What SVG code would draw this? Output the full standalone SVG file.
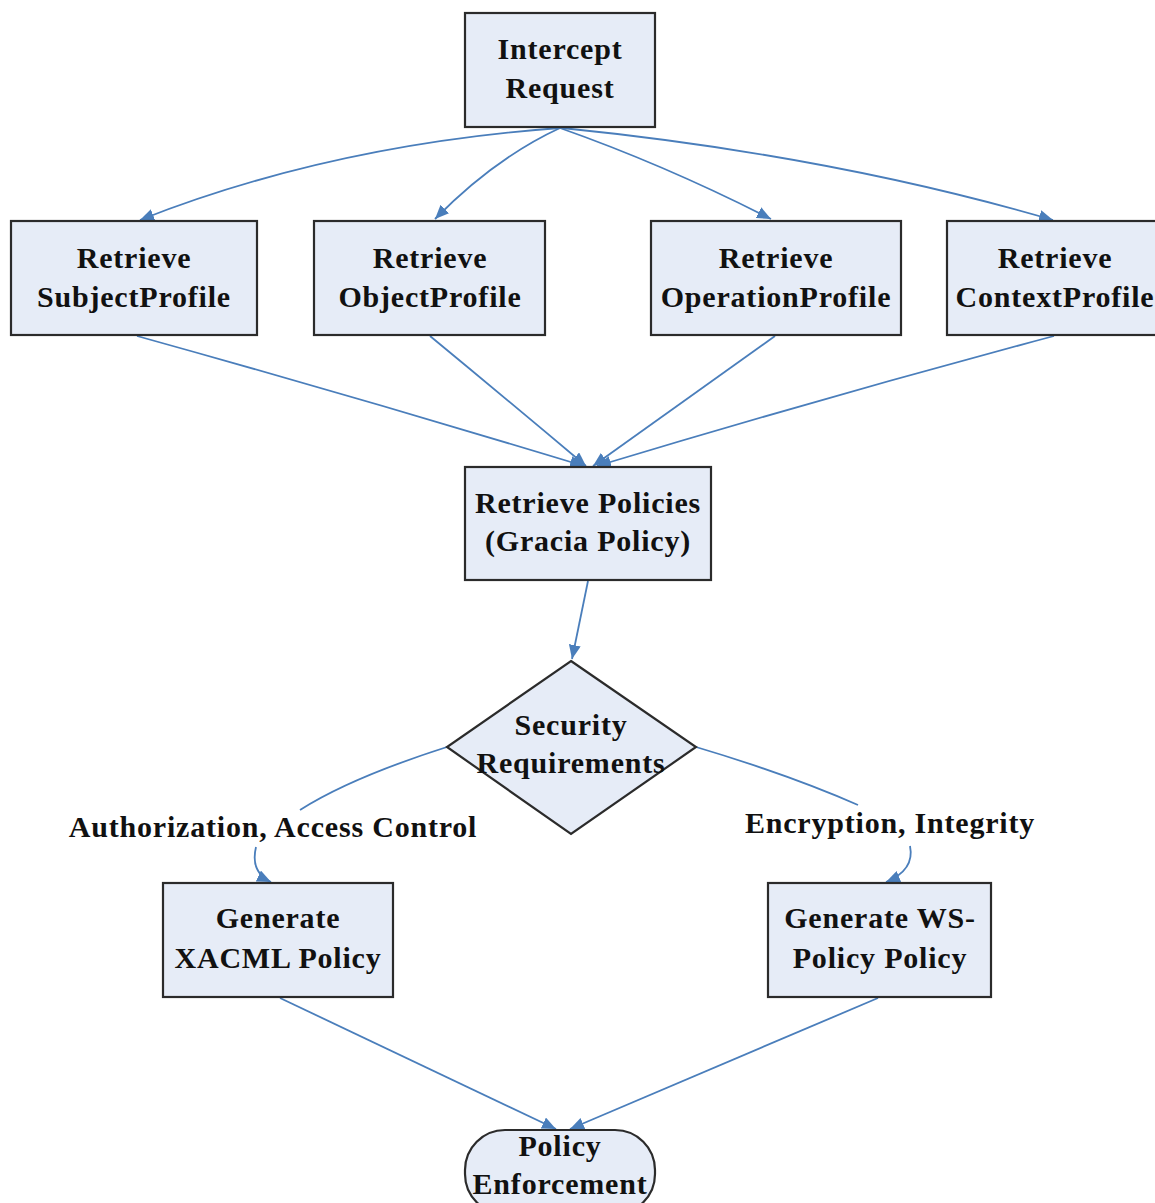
<svg xmlns="http://www.w3.org/2000/svg" width="1155" height="1203" viewBox="0 0 1155 1203">
  <style>
    .box { fill: #E6ECF7; stroke: #2b2b2b; stroke-width: 2.2; }
    .lbl { font-family: "Liberation Serif", "Times New Roman", serif; font-weight: bold; font-size: 30px; letter-spacing: 0.8px; fill: #111; text-anchor: middle; }
    .edge { fill: none; stroke: #4A7EBB; stroke-width: 1.8; }
  </style>
  <defs>
    <marker id="arrow" viewBox="0 0 14 12" refX="14" refY="6" markerWidth="14" markerHeight="12" markerUnits="userSpaceOnUse" orient="auto">
      <path d="M0,0 L14,6 L0,12 Z" fill="#4A7EBB"/>
    </marker>
  </defs>
  <rect width="1155" height="1203" fill="#ffffff"/>

  <g id="connectors">
    <!-- fan-out from Intercept Request -->
    <path class="edge" d="M560,128 Q330,145 140,220" marker-end="url(#arrow)"/>
    <path class="edge" d="M560,128 Q495,158 435,219" marker-end="url(#arrow)"/>
    <path class="edge" d="M560,128 Q665,165 771,219" marker-end="url(#arrow)"/>
    <path class="edge" d="M562,128 Q830,155 1053,220" marker-end="url(#arrow)"/>
    <!-- profiles into Retrieve Policies -->
    <path class="edge" d="M137,336 Q360,398 584,466" marker-end="url(#arrow)"/>
    <path class="edge" d="M430,336 Q510,402 586,466" marker-end="url(#arrow)"/>
    <path class="edge" d="M775,336 Q682,402 593,466" marker-end="url(#arrow)"/>
    <path class="edge" d="M1054,336 Q822,398 597,466" marker-end="url(#arrow)"/>
    <!-- policies to decision -->
    <path class="edge" d="M588,581 L572,659" marker-end="url(#arrow)"/>
    <!-- decision branches -->
    <path class="edge" d="M447,747 Q350,778 300,810"/>
    <path class="edge" d="M256,847 Q250,872 271,882" marker-end="url(#arrow)"/>
    <path class="edge" d="M696,747 Q790,775 858,805"/>
    <path class="edge" d="M910,846 Q915,870 886,882" marker-end="url(#arrow)"/>
    <!-- generators into enforcement -->
    <path class="edge" d="M280,998 L556,1129" marker-end="url(#arrow)"/>
    <path class="edge" d="M878,998 L570,1129" marker-end="url(#arrow)"/>
  </g>

  <g id="intercept-request">
    <rect class="box" x="465" y="13" width="190" height="114"/>
    <text class="lbl" x="560" y="59">Intercept</text>
    <text class="lbl" x="560" y="98">Request</text>
  </g>

  <g id="retrieve-subject">
    <rect class="box" x="11" y="221" width="246" height="114"/>
    <text class="lbl" x="134" y="268">Retrieve</text>
    <text class="lbl" x="134" y="307">SubjectProfile</text>
  </g>

  <g id="retrieve-object">
    <rect class="box" x="314" y="221" width="231" height="114"/>
    <text class="lbl" x="430" y="268">Retrieve</text>
    <text class="lbl" x="430" y="307">ObjectProfile</text>
  </g>

  <g id="retrieve-operation">
    <rect class="box" x="651" y="221" width="250" height="114"/>
    <text class="lbl" x="776" y="268">Retrieve</text>
    <text class="lbl" x="776" y="307">OperationProfile</text>
  </g>

  <g id="retrieve-context">
    <rect class="box" x="947" y="221" width="216" height="114"/>
    <text class="lbl" x="1055" y="268">Retrieve</text>
    <text class="lbl" x="1055" y="307">ContextProfile</text>
  </g>

  <g id="retrieve-policies">
    <rect class="box" x="465" y="467" width="246" height="113"/>
    <text class="lbl" x="588" y="513">Retrieve Policies</text>
    <text class="lbl" x="588" y="551">(Gracia Policy)</text>
  </g>

  <g id="security-requirements">
    <polygon class="box" points="571,661 696,747 571,834 447,747"/>
    <text class="lbl" x="571" y="735">Security</text>
    <text class="lbl" x="571" y="773">Requirements</text>
  </g>

  <g id="branch-labels">
    <text class="lbl" x="273" y="837">Authorization, Access Control</text>
    <text class="lbl" x="890" y="833">Encryption, Integrity</text>
  </g>

  <g id="generate-xacml">
    <rect class="box" x="163" y="883" width="230" height="114"/>
    <text class="lbl" x="278" y="928">Generate</text>
    <text class="lbl" x="278" y="968">XACML Policy</text>
  </g>

  <g id="generate-ws-policy">
    <rect class="box" x="768" y="883" width="223" height="114"/>
    <text class="lbl" x="880" y="928">Generate WS-</text>
    <text class="lbl" x="880" y="968">Policy Policy</text>
  </g>

  <g id="policy-enforcement">
    <rect class="box" x="465" y="1130" width="190" height="84" rx="40" ry="40"/>
    <text class="lbl" x="560" y="1156">Policy</text>
    <text class="lbl" x="560" y="1194">Enforcement</text>
  </g>
</svg>
